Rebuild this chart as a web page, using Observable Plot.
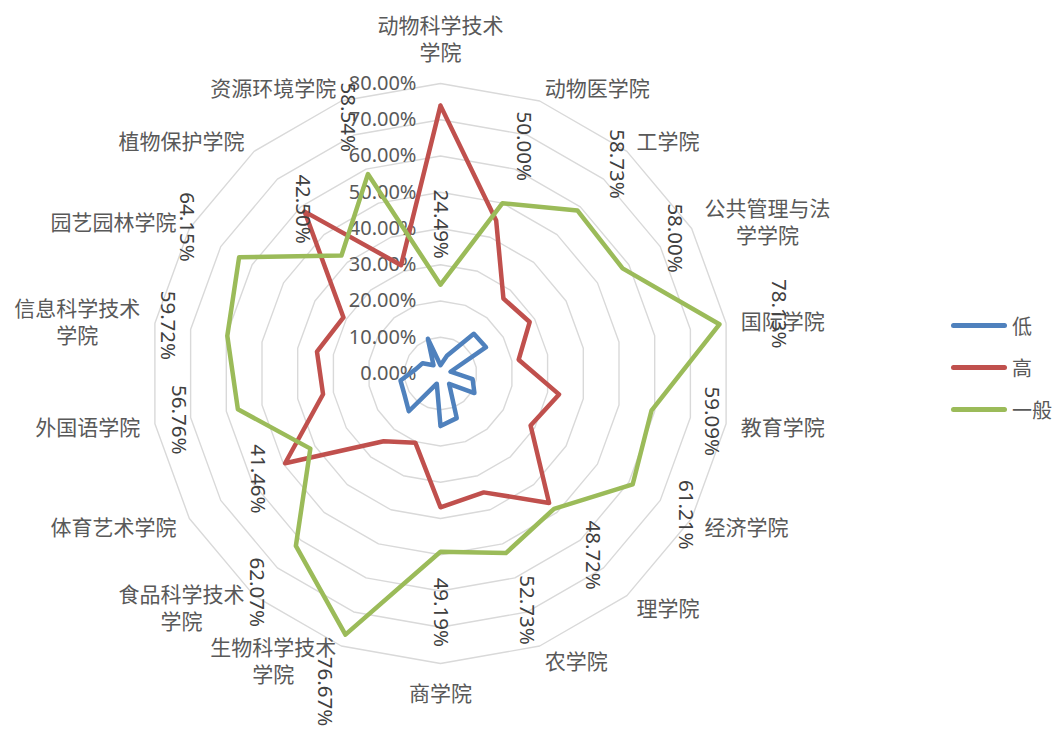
<!DOCTYPE html>
<html><head><meta charset="utf-8">
<script src="https://cdn.jsdelivr.net/npm/d3@7"></script>
<script src="https://cdn.jsdelivr.net/npm/@observablehq/plot@0.6"></script>
<style>
body{margin:0;background:#fff;}
#wrap{position:relative;width:1055px;height:729px;}
#legend{position:absolute;left:951px;top:304px;font-family:"Noto Sans CJK SC","Noto Sans",sans-serif;font-size:20px;color:#595959;}
.item{display:flex;align-items:center;height:42px;}
.swatch{width:56px;height:5px;border-radius:3px;margin-right:5px;}
</style></head><body><div id="wrap"></div>
<script>
const categories = ["动物科学技术学院","动物医学院","工学院","公共管理与法学学院","国际学院","教育学院","经济学院","理学院","农学院","商学院","生物科学技术学院","食品科学技术学院","体育艺术学院","外国语学院","信息科学技术学院","园艺园林学院","植物保护学院","资源环境学院"];
const seriesNames = ["低","高","一般"];
const seriesColors = ["#4F81BD","#C0504D","#9BBB59"];
const lowValues  = [2.3, 5.2, 14.3, 14.5, 2.8, 9.0, 10.8, 3.7, 13.1, 14.5, 3.0, 13.6, 11.5, 11.2, 6.9, 5.7, 3.0, 10.2];
const highValues = [73.9, 44.9, 27.0, 28.4, 21.9, 33.2, 28.7, 46.6, 34.9, 36.9, 20.3, 24.4, 49.5, 32.9, 34.6, 30.9, 58.3, 31.8];
const midValues  = [24.49, 50.00, 58.73, 58.00, 78.13, 59.09, 61.21, 48.72, 52.73, 49.19, 76.67, 62.07, 41.46, 56.76, 59.72, 64.15, 42.50, 58.54];
const tickValues = [0, 10, 20, 30, 40, 50, 60, 70, 80];
const tickLabels = ["0.00%","10.00%","20.00%","30.00%","40.00%","50.00%","60.00%","70.00%","80.00%"];

(function () {
const N = categories.length;
const ang = i => (i % N) * 2 * Math.PI / N;
const px = (v, i) => v * Math.sin(ang(i));
const py = (v, i) => v * Math.cos(ang(i));

const grid = [];
for (const lv of tickValues.slice(1)) for (let i = 0; i <= N; i++) grid.push({lv, i});

const seriesData = [lowValues, highValues, midValues];
const rows = [];
seriesData.forEach((vals, s) => { for (let i = 0; i <= N; i++) rows.push({series: seriesNames[s], i, v: vals[i % N]}); });

const midRows = midValues.map((v, i) => ({i, v}));
const ticks = tickValues.map((v, k) => ({v, label: tickLabels[k]}));

const wrapName = s => s.length > 6 ? s.slice(0, 6) + "\n" + s.slice(6) : s;
const cats = categories.map((c, i) => ({i, name: wrapName(c), multi: c.length > 6}));
const LR = 84.1;
const catTop = cats.filter(d => d.i === 0);
const catBottom = cats.filter(d => d.i === N / 2);
const catRight = cats.filter(d => d.i > 0 && d.i < N / 2);
const catLeft = cats.filter(d => d.i > N / 2);

const labelFont = {fontFamily: '"Noto Sans CJK SC", sans-serif', fontSize: 21, fill: "#595959", lineHeight: 1.29};
const numFont = '"Noto Sans", "Noto Sans CJK SC", sans-serif';
const cx = d => px(LR, d.i), cy = d => py(LR, d.i);

const chart = Plot.plot({
  width: 1055, height: 729, margin: 0,
  x: {domain: [-80, 80], range: [150, 730], axis: null},
  y: {domain: [-80, 80], range: [663, 83], axis: null},
  color: {domain: seriesNames, range: seriesColors},
  marks: [
    Plot.line(grid, {x: d => px(d.lv, d.i), y: d => py(d.lv, d.i), z: "lv", stroke: "#d9d9d9", strokeWidth: 1.4}),
    Plot.text(ticks, {x: d => 0, y: "v", text: "label", textAnchor: "end", dx: -24, fontSize: 20, fontFamily: numFont, fill: "#595959"}),
    Plot.line(rows, {x: d => px(d.v, d.i), y: d => py(d.v, d.i), z: "series", stroke: "series", strokeWidth: 4.5, strokeLinejoin: "round", strokeLinecap: "round"}),
    Plot.text(catTop, {x: cx, y: cy, text: "name", textAnchor: "middle", lineAnchor: "bottom", dy: -9, ...labelFont}),
    Plot.text(catBottom, {x: cx, y: cy, text: "name", textAnchor: "middle", lineAnchor: "top", dy: 3, ...labelFont}),
    Plot.text(catRight.filter(d => !d.multi), {x: cx, y: cy, text: "name", textAnchor: "start", lineAnchor: "middle", ...labelFont}),
    Plot.text(catRight.filter(d => d.multi), {x: cx, y: cy, text: "name", textAnchor: "middle", lineAnchor: "middle", dx: 63, ...labelFont}),
    Plot.text(catLeft.filter(d => !d.multi), {x: cx, y: cy, text: "name", textAnchor: "end", lineAnchor: "middle", ...labelFont}),
    Plot.text(catLeft.filter(d => d.multi), {x: cx, y: cy, text: "name", textAnchor: "middle", lineAnchor: "middle", dx: -63, ...labelFont}),
    Plot.text(midRows, {x: d => px(d.v + 16.7, d.i), y: d => py(d.v + 16.7, d.i), text: d => d.v.toFixed(2) + "%", rotate: 90, textAnchor: "middle", lineAnchor: "middle", fontSize: 20.5, fontFamily: numFont, fill: "#404040"})
  ]
});

const wrap = document.getElementById("wrap");
wrap.appendChild(chart);
const legend = document.createElement("div");
legend.id = "legend";
seriesNames.forEach((n, k) => {
  const it = document.createElement("div"); it.className = "item";
  const sw = document.createElement("div"); sw.className = "swatch"; sw.style.background = seriesColors[k];
  const tx = document.createElement("span"); tx.textContent = n;
  it.appendChild(sw); it.appendChild(tx); legend.appendChild(it);
});
wrap.appendChild(legend);
})();
</script>
</body></html>
